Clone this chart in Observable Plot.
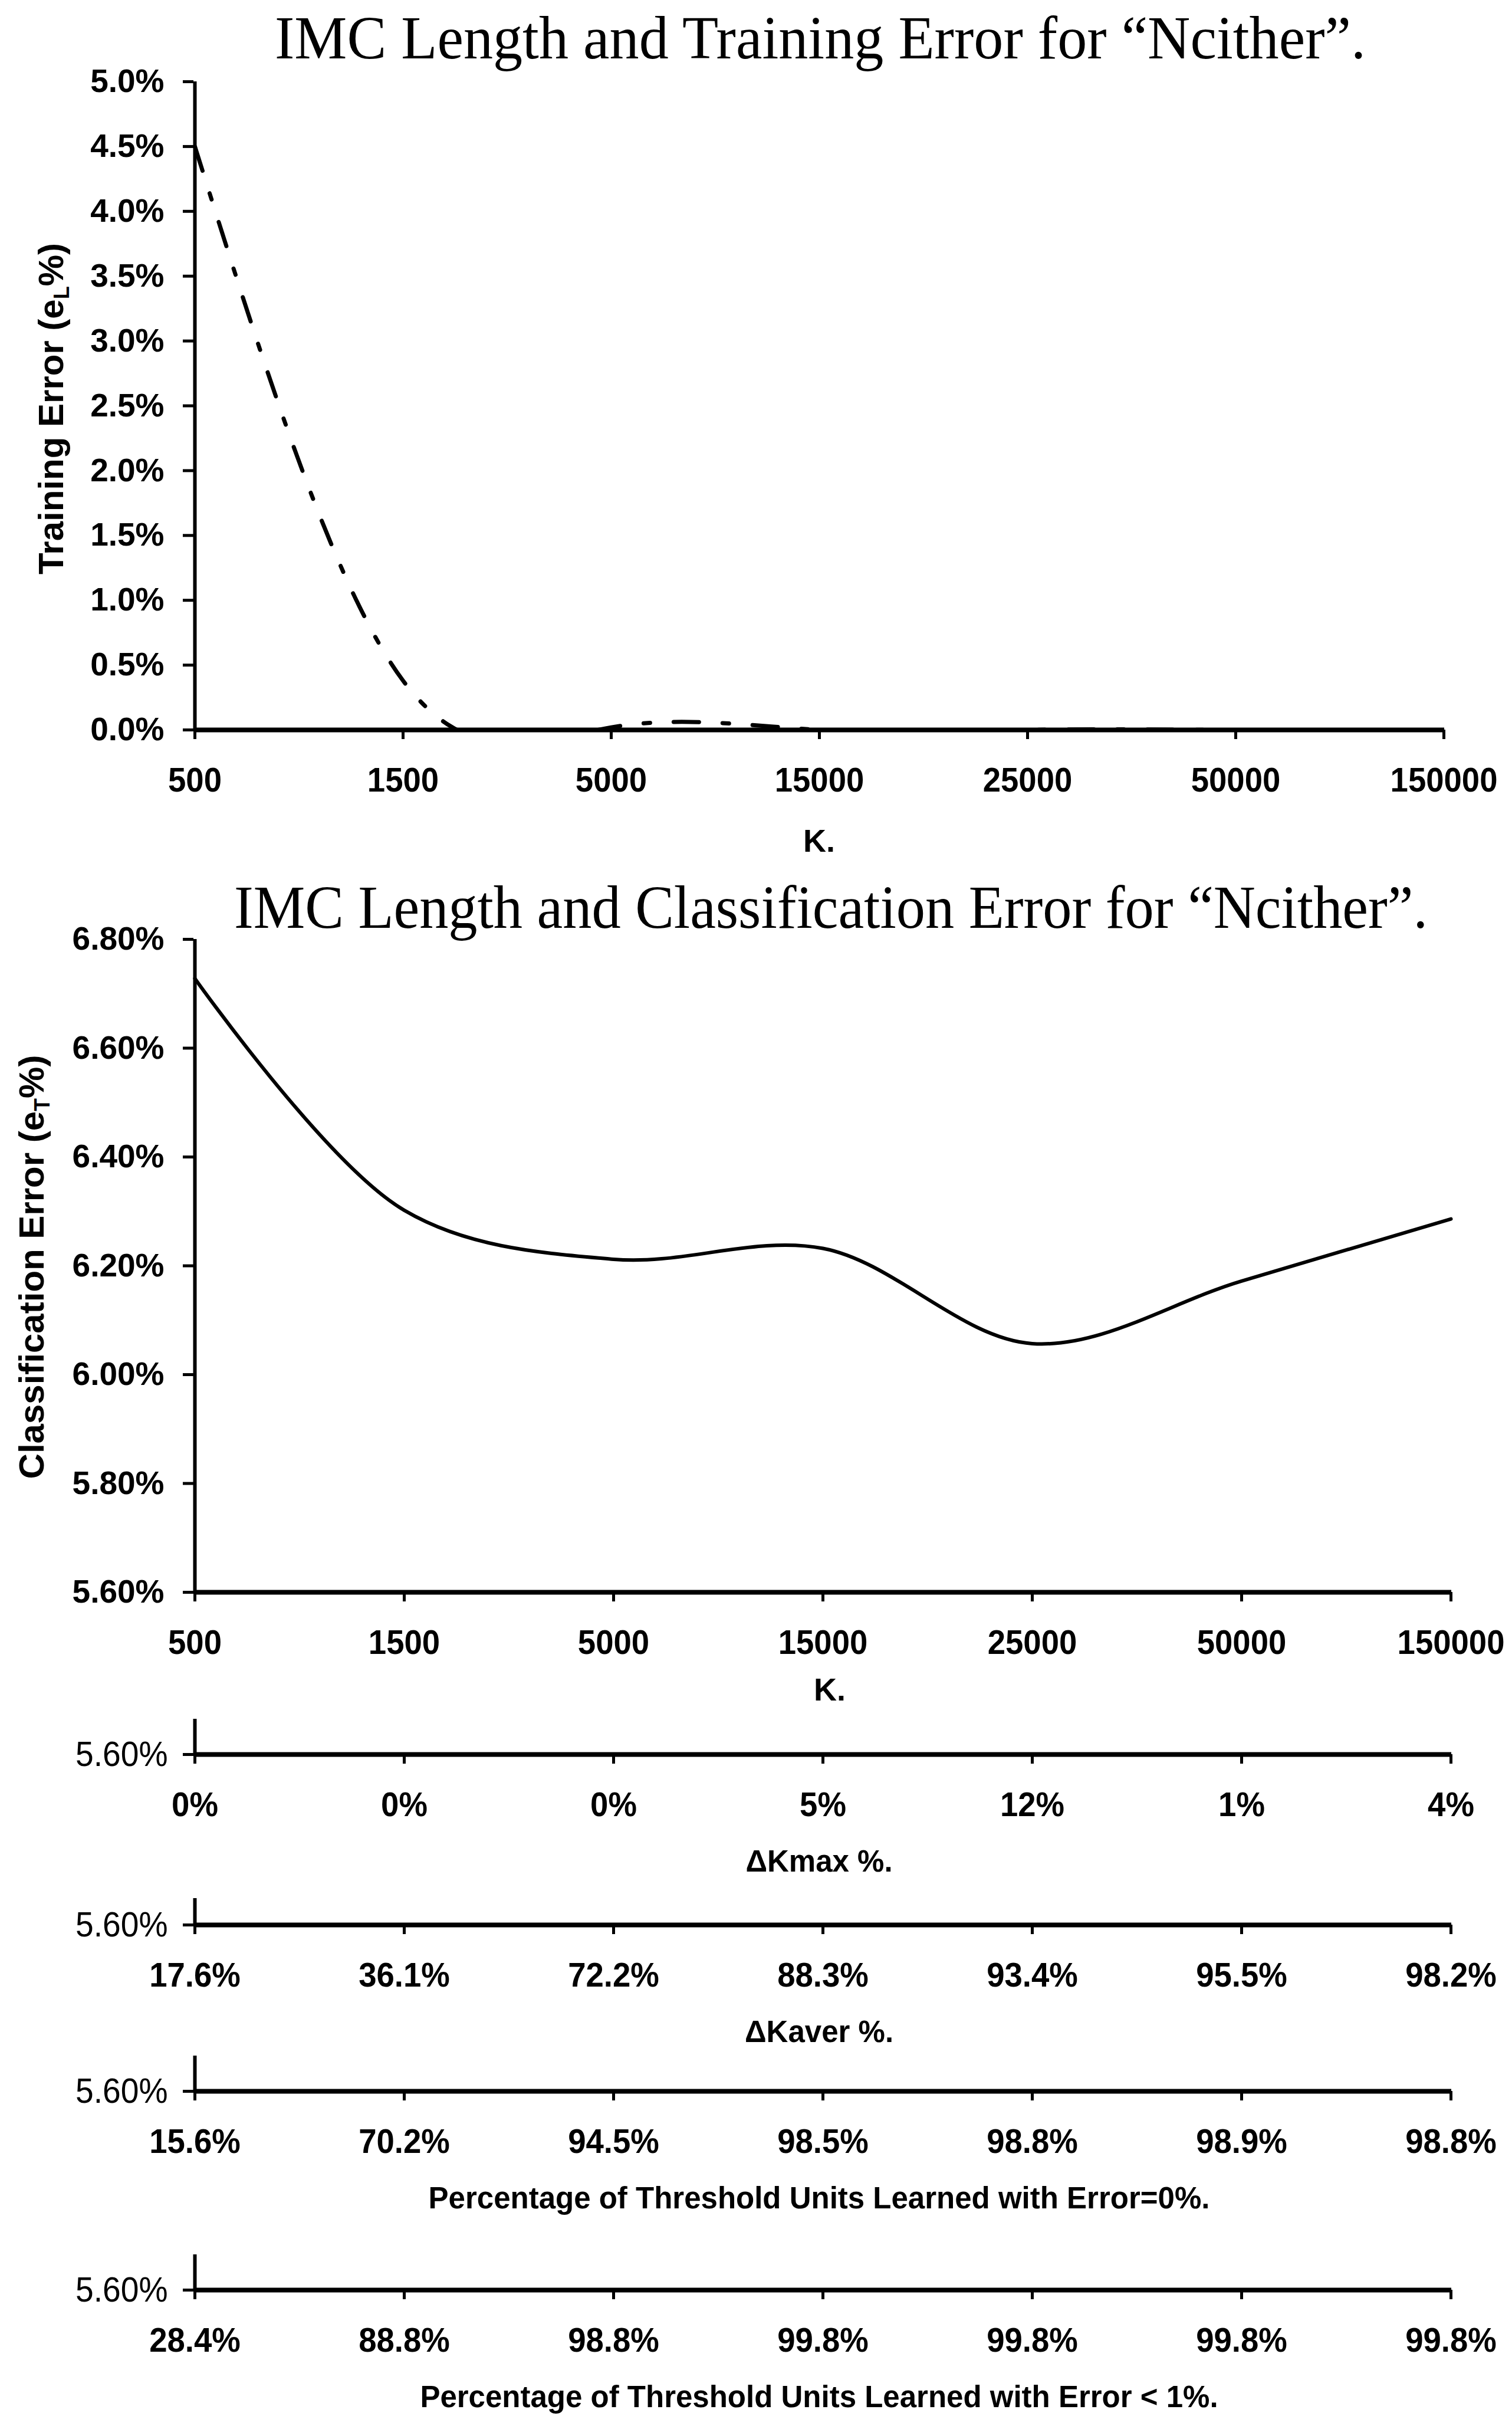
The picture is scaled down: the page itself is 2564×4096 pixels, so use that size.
<!DOCTYPE html>
<html>
<head>
<meta charset="utf-8">
<script src="https://cdn.jsdelivr.net/npm/d3@7"></script>
<script src="https://cdn.jsdelivr.net/npm/@observablehq/plot@0.6"></script>
<style>
  html, body { margin: 0; padding: 0; background: #fff; }
  #root { position: relative; width: 2564px; height: 4096px; background: #fff; overflow: hidden; }
  #root svg { position: absolute; left: 0; }
</style>
</head>
<body>
<div id="root"></div>
<script>
// ---------------- data ----------------
const kLabels = ["500", "1500", "5000", "15000", "25000", "50000", "150000"];
const trainErr = [0.045, 0.0038, 0.0002, 0, 0, 0, 0];
const classErr = [0.06728, 0.06302, 0.06212, 0.06232, 0.06057, 0.06172, 0.06286];
const trainTicks = [0, 0.005, 0.01, 0.015, 0.02, 0.025, 0.03, 0.035, 0.04, 0.045, 0.05];
const classTicks = [0.056, 0.058, 0.06, 0.062, 0.064, 0.066, 0.068];
const kmaxLabels = ["0%", "0%", "0%", "5%", "12%", "1%", "4%"];
const kaverLabels = ["17.6%", "36.1%", "72.2%", "88.3%", "93.4%", "95.5%", "98.2%"];
const err0Labels = ["15.6%", "70.2%", "94.5%", "98.5%", "98.8%", "98.9%", "98.8%"];
const err1Labels = ["28.4%", "88.8%", "98.8%", "99.8%", "99.8%", "99.8%", "99.8%"];
const titleTop = "IMC Length and Training Error for \u201cNcither\u201d.";
const titleBottom = "IMC Length and Classification Error for \u201cNcither\u201d.";
const yLabelTop = "Training Error (e|L|%)";
const yLabelBottom = "Classification Error (e|T|%)";
const xLabel = "K.";
const stripTitles = ["\u0394Kmax %.", "\u0394Kaver %.", "Percentage of Threshold Units Learned with Error=0%.", "Percentage of Threshold Units Learned with Error < 1%."];
const stripLabels = [kmaxLabels, kaverLabels, err0Labels, err1Labels];

const trainRows = kLabels.map((k, i) => ({k, v: trainErr[i]}));
const classRows = kLabels.map((k, i) => ({k, v: classErr[i]}));

// ---------------- fonts ----------------
const SANS = "'Liberation Sans', Arial, sans-serif";
const SERIF = "'Liberation Serif', 'Times New Roman', serif";
function fontAvailable(fam, weight) {
  const c = document.createElement("canvas").getContext("2d");
  const s = "0123456789% Percentage";
  c.font = `${weight} 60px monospace`;
  const a = c.measureText(s).width;
  c.font = `${weight} 60px '${fam}', monospace`;
  const b = c.measureText(s).width;
  return Math.abs(a - b) > 0.5;
}
const hasNarrow = fontAvailable("Liberation Sans Narrow", "bold");
const TICK = hasNarrow
  ? {family: "'Liberation Sans Narrow', 'Liberation Sans', sans-serif", size: 64, cond: 1}
  : {family: SANS, size: 58, cond: 0.94};
const STUBLBL = hasNarrow
  ? {family: "'Liberation Sans Narrow', 'Liberation Sans', sans-serif", size: 66, cond: 1}
  : {family: SANS, size: 60, cond: 0.92};

// ---------------- layout ----------------
const W = 2564;
const AXL = 328;
const root = document.getElementById("root");
const baseStyle = {background: "transparent", overflow: "visible", fontFamily: SANS, color: "black"};

function place(svg, top) {
  svg.style.top = top + "px";
  root.appendChild(svg);
  return svg;
}
function condense(svg, selector, f) {
  if (f === 1) return;
  svg.querySelectorAll(selector).forEach(t => {
    const L = t.getComputedTextLength();
    t.setAttribute("textLength", (L * f).toFixed(1));
    t.setAttribute("lengthAdjust", "spacingAndGlyphs");
  });
}
function fitText(svg, content, width) {
  svg.querySelectorAll("text").forEach(t => {
    if (t.textContent === content) {
      t.setAttribute("textLength", width);
      t.setAttribute("lengthAdjust", "spacingAndGlyphs");
    }
  });
}
function subscriptify(svg, content) {
  svg.querySelectorAll("text").forEach(t => {
    if (t.textContent === content) {
      const [a, s, b] = content.split("|");
      const target = t.querySelector("tspan") || t;
      target.textContent = "";
      const ns = "http://www.w3.org/2000/svg";
      const t1 = document.createElementNS(ns, "tspan"); t1.textContent = a;
      const t2 = document.createElementNS(ns, "tspan"); t2.textContent = s;
      t2.setAttribute("dy", "0.3em"); t2.setAttribute("font-size", "0.6em");
      const t3 = document.createElementNS(ns, "tspan"); t3.textContent = b;
      t3.setAttribute("dy", "-0.18em");
      target.appendChild(t1); target.appendChild(t2); target.appendChild(t3);
    }
  });
}
const xTickOpts = {tickSize: 16, tickPadding: 47, fontSize: TICK.size, fontFamily: TICK.family,
  fontWeight: "bold", strokeWidth: 5, label: null};

// ---------------- top chart ----------------
{
  const H = 1480, mt = 138, mb = H - 1237, mr = W - 2449;
  const svg = Plot.plot({
    width: W, height: H, marginTop: mt, marginBottom: mb, marginLeft: AXL, marginRight: mr,
    style: baseStyle,
    x: {type: "point", domain: kLabels, padding: 0},
    y: {domain: [0, 0.05]},
    marks: [
      Plot.axisY({ticks: trainTicks, tickFormat: d3.format(".1%"), tickSize: 18, tickPadding: 32,
        fontSize: 55, fontWeight: "bold", strokeWidth: 5, label: null}),
      Plot.axisX(xTickOpts),
      Plot.line(trainRows, {x: "k", y: "v", curve: "natural", stroke: "black", strokeWidth: 7,
        strokeDasharray: "43,40,11,40", clip: true}),
      Plot.ruleX([kLabels[0]], {stroke: "black", strokeWidth: 6}),
      Plot.ruleY([0], {stroke: "black", strokeWidth: 8}),
      Plot.text([titleTop], {text: d => d, frameAnchor: "top", dx: 2, dy: -40, lineAnchor: "bottom",
        fontFamily: SERIF, fontSize: 104}),
      Plot.text([xLabel], {text: d => d, frameAnchor: "bottom", dy: 189, lineAnchor: "middle",
        fontSize: 54, fontWeight: "bold"}),
      Plot.text([yLabelTop], {text: d => d, frameAnchor: "left", textAnchor: "middle", rotate: -90,
        dx: 106 - AXL, dy: 5, lineAnchor: "bottom", fontSize: 60, fontWeight: "bold"})
    ]
  });
  place(svg, 0);
  condense(svg, 'g[aria-label="x-axis tick label"] text', TICK.cond);
  fitText(svg, titleTop, 1850);
  subscriptify(svg, yLabelTop);
}

// ---------------- bottom chart ----------------
{
  const top = 1440, H = 1460, mt = 1592 - top, mb = H - (2699 - top), mr = W - 2461;
  const svg = Plot.plot({
    width: W, height: H, marginTop: mt, marginBottom: mb, marginLeft: AXL, marginRight: mr,
    style: baseStyle,
    x: {type: "point", domain: kLabels, padding: 0},
    y: {domain: [0.056, 0.068]},
    marks: [
      Plot.axisY({ticks: classTicks, tickFormat: d3.format(".2%"), tickSize: 18, tickPadding: 32,
        fontSize: 55, fontWeight: "bold", strokeWidth: 5, label: null}),
      Plot.axisX(xTickOpts),
      Plot.line(classRows, {x: "k", y: "v", curve: "catmull-rom", stroke: "black", strokeWidth: 6}),
      Plot.ruleX([kLabels[0]], {stroke: "black", strokeWidth: 6}),
      Plot.ruleY([0.056], {stroke: "black", strokeWidth: 8}),
      Plot.text([titleBottom], {text: d => d, frameAnchor: "top", dx: 14, dy: -20, lineAnchor: "bottom",
        fontFamily: SERIF, fontSize: 104}),
      Plot.text([xLabel], {text: d => d, frameAnchor: "bottom", dx: 12, dy: 166, lineAnchor: "middle",
        fontSize: 54, fontWeight: "bold"}),
      Plot.text([yLabelBottom], {text: d => d, frameAnchor: "left", textAnchor: "middle", rotate: -90,
        dx: 73 - AXL, dy: 2, lineAnchor: "bottom", fontSize: 60, fontWeight: "bold"})
    ]
  });
  place(svg, top);
  condense(svg, 'g[aria-label="x-axis tick label"] text', TICK.cond);
  fitText(svg, titleBottom, 2024);
  subscriptify(svg, yLabelBottom);
}

// ---------------- strips ----------------
const stripAxisY = [2974, 3263, 3545, 3882];
const stripStub = [60, 45, 60, 60];
stripLabels.forEach((labels, s) => {
  const mt = 30, mb = 230, stub = stripStub[s];
  const H = mt + stub + mb;
  const top = stripAxisY[s] - stub - mt;
  const svg = Plot.plot({
    width: W, height: H, marginTop: mt, marginBottom: mb, marginLeft: AXL, marginRight: W - 2461,
    style: baseStyle,
    x: {type: "point", domain: kLabels, padding: 0},
    y: {domain: [0.056, 0.057]},
    marks: [
      Plot.axisY({ticks: [0.056], tickFormat: d3.format(".2%"), tickSize: 18, tickPadding: 26,
        fontSize: STUBLBL.size, fontFamily: STUBLBL.family, fontWeight: "normal", strokeWidth: 5, label: null}),
      Plot.axisX({...xTickOpts, tickFormat: d => labels[kLabels.indexOf(d)]}),
      Plot.ruleX([kLabels[0]], {stroke: "black", strokeWidth: 6}),
      Plot.ruleY([0.056], {stroke: "black", strokeWidth: 8}),
      Plot.text([stripTitles[s]], {text: d => d, frameAnchor: "bottom", dx: -6, dy: 182, lineAnchor: "middle",
        fontSize: 51, fontWeight: "bold"})
    ]
  });
  place(svg, top);
  condense(svg, 'g[aria-label="x-axis tick label"] text', TICK.cond);
  condense(svg, 'g[aria-label="y-axis tick label"] text', STUBLBL.cond);
});
</script>
</body>
</html>
